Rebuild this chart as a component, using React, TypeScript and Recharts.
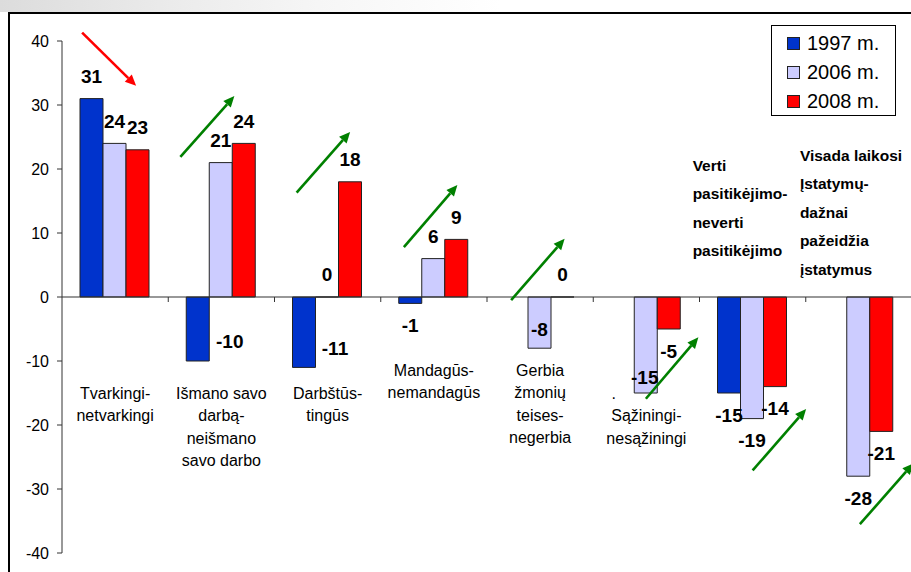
import React from "react";
import { BarChart, Bar, XAxis, YAxis, ReferenceLine, LabelList, Legend } from "recharts";

// categories (line breaks as in the original slide)
const categories = [
  "Tvarkingi-\nnetvarkingi",
  "Išmano savo\ndarbą-\nneišmano\nsavo darbo",
  "Darbštūs-\ntingūs",
  "Mandagūs-\nnemandagūs",
  "Gerbia\nžmonių\nteises-\nnegerbia",
  ".\nSąžiningi-\nnesąžiningi",
  "Verti\npasitikėjimo-\nneverti\npasitikėjimo",
  "Visada laikosi\nĮstatymų-\ndažnai\npažeidžia\nįstatymus",
];

const values1997 = [31, -10, -11, -1, null, null, -15, null];
const values2006 = [24, 21, 0, 6, -8, -15, -19, -28];
const values2008 = [23, 24, 18, 9, 0, -5, -14, -21];

const yTicks = [-40, -30, -20, -10, 0, 10, 20, 30, 40];

const series = [
  { key: "y1997", name: "1997 m.", color: "#0033CC" },
  { key: "y2006", name: "2006 m.", color: "#CCCCFF" },
  { key: "y2008", name: "2008 m.", color: "#FF0000" },
];

// trend arrows: start / end value on the y scale
const arrowFrom = [41.3, 21.9, 16.3, 7.8, -0.5, -15.9, -27.1, -35.5];
const arrowTo = [33.0, 31.4, 25.8, 17.5, 9.1, -6.3, -17.5, -26.0];

const data = categories.map((name, i) => ({
  name,
  y1997: values1997[i],
  y2006: values2006[i],
  y2008: values2008[i],
}));

const W = 912;
const H = 572;
const M = { top: 41, right: 0, bottom: 0, left: 0 };
const XAXIS_H = 19;
const ZERO_Y = M.top + (H - M.top - M.bottom - XAXIS_H) / 2;
const FONT = "'Liberation Sans', Arial, sans-serif";

// horizontal placement of each arrow around its category centre (px)
const arrowDx = [
  [-33, 21],
  [-41, 13],
  [-31, 22.5],
  [-30, 23.5],
  [-29, 24.5],
  [-0.5, 52],
  [0, 53.5],
  [1, 54.5],
];

// where each category caption sits relative to the zero line
const catLayout = [
  { dy: 96 },
  { dy: 96 },
  { dy: 96 },
  { dy: 73 },
  { dy: 73 },
  { dy: 96 },
  { dy: -132, bold: true, left: -60 },
  { dy: -142, bold: true, left: -59 },
];

const labelNudge: Record<string, { dx: number; dy: number }> = {
  "y1997-1": { dx: 32, dy: -42 },
  "y1997-2": { dx: 31, dy: -41 },
  "y2006-4": { dx: 0, dy: -41 },
  "y2006-5": { dx: -1, dy: -38 },
};

const CategoryTick = (p: any) => {
  const { x, index, payload } = p;
  const st = catLayout[index] || { dy: 96 };
  const lines = String(payload.value).split("\n");
  const lh = st.bold ? 28.5 : 22.5;
  return (
    <g>
      {lines.map((ln, i) => {
        const y = ZERO_Y + st.dy + i * lh;
        if (ln === ".") {
          return (
            <text key={i} x={x - 35} y={y} fontSize={16} fontFamily={FONT} fill="#000" dominantBaseline="central">
              .
            </text>
          );
        }
        return (
          <text
            key={i}
            x={st.bold ? x + st.left : x}
            y={y}
            textAnchor={st.bold ? "start" : "middle"}
            dominantBaseline="central"
            fontSize={st.bold ? 15.5 : 16}
            fontWeight={st.bold ? "bold" : "normal"}
            fontFamily={FONT}
            fill="#000"
          >
            {ln}
          </text>
        );
      })}
    </g>
  );
};

const renderValue = (key: string) => (p: any) => {
  const { value, index } = p;
  if (value === null || value === undefined) return null;
  const vb = p.viewBox || p;
  const x = Number(vb.x);
  const y = Number(vb.y);
  const w = Number(vb.width);
  const h = Number(vb.height);
  const top = Math.min(y, y + h);
  const bottom = Math.max(y, y + h);
  const n = labelNudge[`${key}-${index}`] || { dx: 0, dy: 0 };
  const cy = value >= 0 ? top - 22 : bottom + 22;
  return (
    <text
      x={x + w / 2 + n.dx}
      y={cy + n.dy}
      textAnchor="middle"
      dominantBaseline="central"
      fontSize={19}
      fontWeight="bold"
      fontFamily={FONT}
      fill="#000"
    >
      {value}
    </text>
  );
};

const ZeroAxis = (p: any) => {
  const { x1, x2, y1 } = p;
  const n = categories.length;
  const step = (x2 - x1) / n;
  return (
    <g>
      <line x1={x1} y1={y1} x2={x2} y2={y1} stroke="#333" strokeWidth={1.2} />
      {categories.slice(1).map((_, i) => (
        <line key={i} x1={x1 + (i + 1) * step} y1={y1} x2={x1 + (i + 1) * step} y2={y1 + 5} stroke="#333" strokeWidth={1} />
      ))}
    </g>
  );
};

const makeArrow = (dx1: number, dx2: number) => (p: any) => {
  const x1 = Number(p.x1) + dx1;
  const x2 = Number(p.x2) + dx2;
  const y1 = Number(p.y1);
  const y2 = Number(p.y2);
  const stroke = p.stroke;
  const a = Math.atan2(y2 - y1, x2 - x1);
  const L = 11;
  const Wd = 5;
  const bx = x2 - L * Math.cos(a);
  const by = y2 - L * Math.sin(a);
  const px = -Math.sin(a) * Wd;
  const py = Math.cos(a) * Wd;
  return (
    <g>
      <line x1={x1} y1={y1} x2={bx} y2={by} stroke={stroke} strokeWidth={2.6} />
      <polygon points={`${x2},${y2} ${bx + px},${by + py} ${bx - px},${by - py}`} fill={stroke} />
    </g>
  );
};

const LegendBox = () => (
  <div
    style={{
      width: 125,
      height: 91,
      boxSizing: "border-box",
      border: "1.5px solid #000",
      background: "#fff",
      fontFamily: FONT,
      fontSize: 20,
      color: "#000",
      paddingTop: 3,
    }}
  >
    {series.map((s) => (
      <div key={s.key} style={{ display: "flex", alignItems: "center", height: 29, paddingLeft: 15 }}>
        <span
          style={{
            display: "inline-block",
            width: 11,
            height: 11,
            background: s.color,
            border: "1px solid #222",
            marginRight: 7,
          }}
        />
        <span>{s.name}</span>
      </div>
    ))}
  </div>
);

export default function App() {
  return (
    <div style={{ position: "absolute", left: 0, top: 0, width: 911, height: 572, overflow: "hidden", background: "#fff" }}>
      <div
        style={{
          position: "absolute",
          left: 0,
          top: 0,
          width: 911,
          height: 12,
          background: "linear-gradient(90deg, #dcdcdc 0%, #ececec 20%, #f6f6f6 35%, #ffffff 55%)",
        }}
      />
      <div
        style={{
          position: "absolute",
          left: 8,
          top: 12,
          width: 910,
          height: 600,
          borderTop: "2px solid #000",
          borderLeft: "2px solid #000",
        }}
      />
      <div style={{ position: "absolute", left: 0, top: 0 }}>
        <BarChart width={W} height={H} data={data} margin={M} barCategoryGap={18} barGap={0}>
          <XAxis dataKey="name" height={XAXIS_H} axisLine={false} tickLine={false} interval={0} tick={CategoryTick} />
          <YAxis
            domain={[-40, 40]}
            ticks={yTicks}
            interval={0}
            width={62}
            tickSize={5}
            tickMargin={8}
            axisLine={{ stroke: "#333" }}
            tickLine={{ stroke: "#333" }}
            tick={{ fill: "#000", fontSize: 16, fontFamily: FONT }}
          />
          <Legend
            layout="horizontal"
            verticalAlign="middle"
            align="center"
            content={() => <LegendBox />}
            wrapperStyle={{ left: 771, top: 25, width: 125, height: 91 }}
          />
          {series.map((s) => (
            <Bar
              key={s.key}
              dataKey={s.key}
              name={s.name}
              fill={s.color}
              stroke="#222"
              strokeWidth={1}
              minPointSize={0.01}
              isAnimationActive={false}
            >
              <LabelList dataKey={s.key} content={renderValue(s.key)} />
            </Bar>
          ))}
          <ReferenceLine y={0} shape={ZeroAxis} ifOverflow="visible" />
          {categories.map((c, i) => (
            <ReferenceLine
              key={i}
              segment={[
                { x: c, y: arrowFrom[i] },
                { x: c, y: arrowTo[i] },
              ]}
              stroke={i === 0 ? "#FF0000" : "#008000"}
              ifOverflow="visible"
              shape={makeArrow(arrowDx[i][0], arrowDx[i][1])}
            />
          ))}
        </BarChart>
      </div>
    </div>
  );
}
